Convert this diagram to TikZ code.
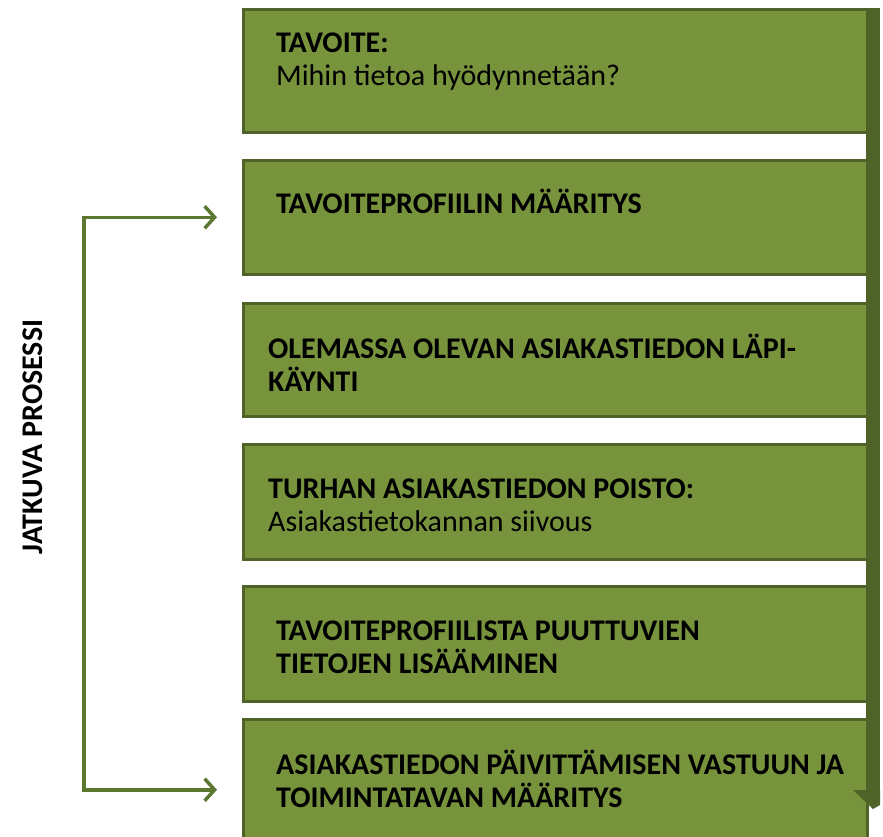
\documentclass[tikz,border=0pt]{standalone}
\usepackage{fontspec}
\setmainfont{Carlito}
\usepackage{tikz}
\usetikzlibrary{arrows.meta}
\definecolor{olive}{HTML}{77933C}
\definecolor{darkolive}{HTML}{4F6228}
\definecolor{lineolive}{HTML}{5B7730}
\tikzstyle{stepbox} = [draw=darkolive, line width=2.5pt, fill=olive, minimum width=624pt, anchor=north west, inner sep=0pt]
\tikzstyle{steptext} = [anchor=base west, align=left, inner sep=0pt, font=\fontsize{30}{33}\selectfont]
\tikzset{
  loopline/.style ={draw=lineolive, line width=3.5pt, {Straight Barb[length=10pt,width=22pt]}-{Straight Barb[length=10pt,width=22pt]}, shorten >=25pt, shorten <=25pt}
}

\begin{document}
\begin{tikzpicture}[x=1pt,y=-1pt]
 \useasboundingbox (0,0) rectangle (883,836);
 % oikean reunan nuoli
 \fill[darkolive] (866,8) rectangle (880,792);
 \node[stepbox, minimum height=123pt] (tavoite) at (242,8) {};
 \node[stepbox, minimum height=114pt] (profiili) at (242,159) {};
 \node[stepbox, minimum height=113pt] (lapikaynti) at (242,302) {};
 \node[stepbox, minimum height=115pt] (poisto) at (242,443) {};
 \node[stepbox, minimum height=115pt] (lisaaminen) at (242,585) {};
 \node[stepbox, minimum height=125pt] (vastuu) at (242,718) {};
 \fill[darkolive] (853,790) -- (880,790) -- (880,805) -- (873,809) -- cycle;

 % viimeisen rivin peruslinja
 \node[steptext] (tavoiteT) at (276,85) {\textbf{TAVOITE:}\\Mihin tietoa hyödynnetään?};
 \node[steptext] (profiiliT) at (276,213) {\textbf{TAVOITEPROFIILIN MÄÄRITYS}};
 \node[steptext] (lapikayntiT) at (268,391) {\textbf{OLEMASSA OLEVAN ASIAKASTIEDON LÄPI-}\\\textbf{KÄYNTI}};
 \node[steptext] (poistoT) at (268,531) {\textbf{TURHAN ASIAKASTIEDON POISTO:}\\Asiakastietokannan siivous};
 \node[steptext] (lisaaminenT) at (276,673) {\textbf{TAVOITEPROFIILISTA PUUTTUVIEN}\\\textbf{TIETOJEN LISÄÄMINEN}};
 \node[steptext] (vastuuT) at (276,807) {\textbf{ASIAKASTIEDON PÄIVITTÄMISEN VASTUUN JA}\\\textbf{TOIMINTATAVAN MÄÄRITYS}};

 \node[rotate=90, font=\fontsize{30}{33}\selectfont\bfseries] (prosessi) at (33,437) {JATKUVA PROSESSI};

 \coordinate (vasen) at (84,0);
 \coordinate (alas) at ([yshift=-8pt]vastuu.west);
 \path[loopline] (profiili.west) -| (vasen |- alas) -- (alas);
\end{tikzpicture}
\end{document}
